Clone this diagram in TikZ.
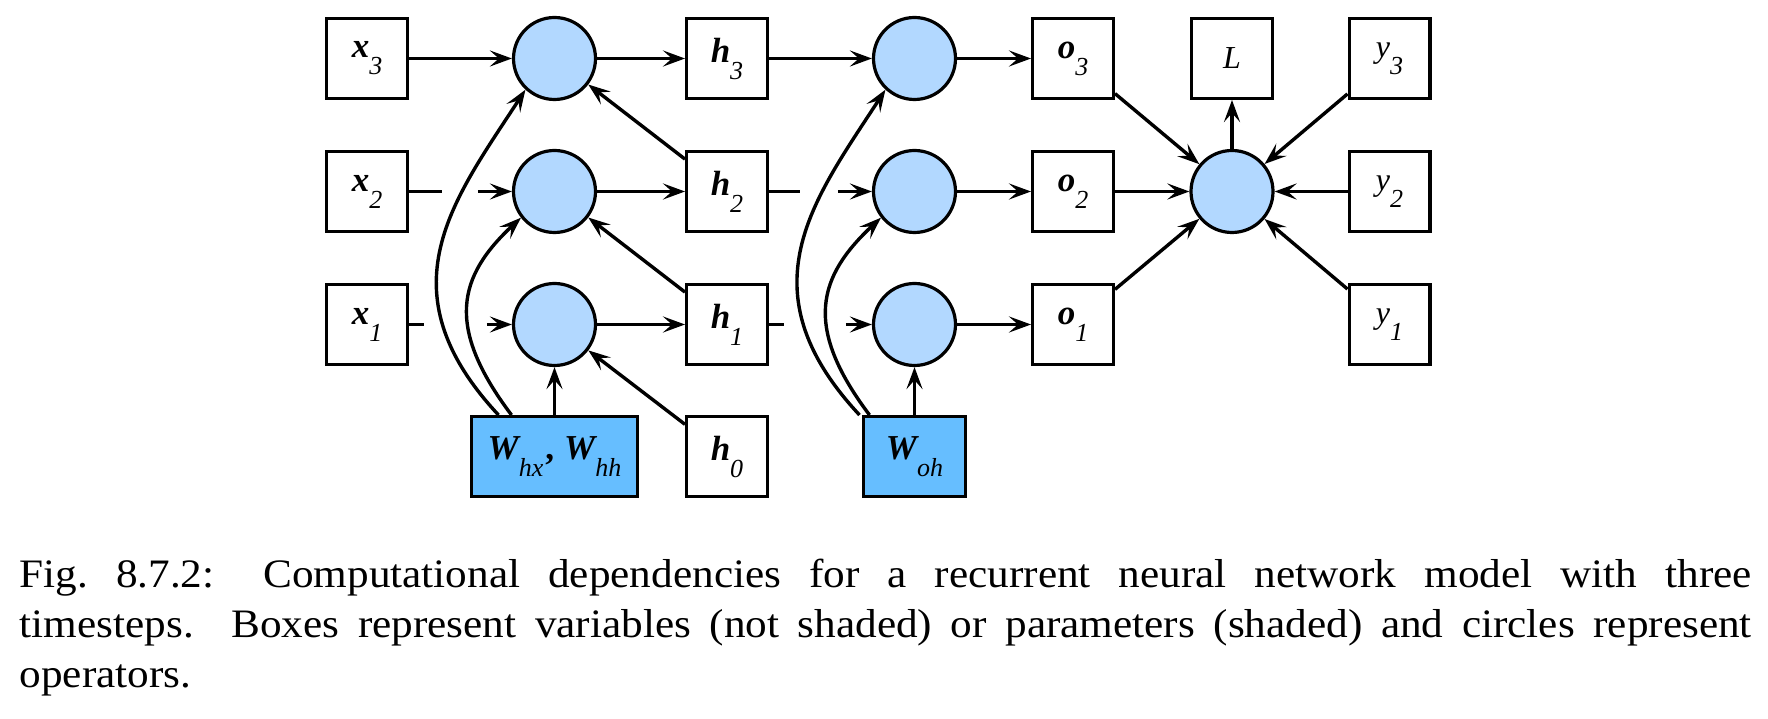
\documentclass[tikz,border=0pt]{standalone}
\usepackage{fontspec}
\setmainfont{Liberation Serif}
\newfontfamily\capfont[FakeStretch=1.07]{Liberation Serif}
\usetikzlibrary{arrows.meta}
\definecolor{opblue}{RGB}{178,216,255}
\definecolor{parblue}{RGB}{102,190,255}
\newcommand{\vb}[2]{{\fontsize{17.5}{17.5}\selectfont\bfseries\itshape #1}\raisebox{-8.5pt}{\fontsize{13}{13}\selectfont\itshape #2}}
\newcommand{\vi}[2]{{\fontsize{16}{16}\selectfont\itshape #1}\raisebox{-8.5pt}{\fontsize{13}{13}\selectfont\itshape #2}}
\newcommand{\capw}{866pt}

\begin{document}
\begin{tikzpicture}[x=0.5pt,y=0.5pt,line width=1.7pt,
  >={Stealth[length=11pt,width=8pt,inset=4.5pt]},
  var/.style={draw,line width=1.6pt,fill=white,inner sep=0pt,minimum width=40.4pt,minimum height=39.9pt},
  par/.style={var,fill=parblue},
  op/.style={draw,circle,line width=1.6pt,fill=opblue,inner sep=0pt,minimum size=41pt}]
\useasboundingbox (0,0) rectangle (1768,718);
% inputs
\node[var] (x3) at (367,659.5) {\vb{x}{3}};
\node[var] (x2) at (367,526.5) {\vb{x}{2}};
\node[var] (x1) at (367,393.5) {\vb{x}{1}};
% hidden layer
\node[op] (a3) at (554.5,659.5) {};
\node[op] (a2) at (554.5,526.5) {};
\node[op] (a1) at (554.5,393.5) {};
\node[par,minimum width=83pt] (whx) at (554.5,261.5) {\vb{W}{hx}\hspace{1pt}{\fontsize{17.5}{17.5}\selectfont\bfseries ,}\hspace{5pt}\vb{W}{hh}};
\node[var] (h3) at (727,659.5) {\vb{h}{3}};
\node[var] (h2) at (727,526.5) {\vb{h}{2}};
\node[var] (h1) at (727,393.5) {\vb{h}{1}};
\node[var] (h0) at (727,261.5) {\vb{h}{0}};
% output layer
\node[op] (b3) at (914.5,659.5) {};
\node[op] (b2) at (914.5,526.5) {};
\node[op] (b1) at (914.5,393.5) {};
\node[par,minimum width=51pt] (woh) at (914.5,261.5) {\vb{W}{oh}};
\node[var] (o3) at (1073,659.5) {\vb{o}{3}};
\node[var] (o2) at (1073,526.5) {\vb{o}{2}};
\node[var] (o1) at (1073,393.5) {\vb{o}{1}};
% loss
\node[op] (loss) at (1232,526.5) {};
\node[var] (L) at (1232,659.5) {\fontsize{16}{16}\selectfont\itshape L};
\node[var] (y3) at (1389.5,659.5) {\vi{y}{3}};
\node[var] (y2) at (1389.5,526.5) {\vi{y}{2}};
\node[var] (y1) at (1389.5,393.5) {\vi{y}{1}};

\draw[->] (x3) -- (a3);
\draw (x2.east) -- ++(33,0);
\draw[->] ([xshift=-17pt]a2.west) -- (a2);
\draw (x1.east) -- ++(15,0);
\draw[->] ([xshift=-12.5pt]a1.west) -- (a1);
\foreach \i in {1,2,3} {
  \draw[->] (a\i) -- (h\i);
  \draw[->] (b\i) -- (o\i);
  \draw[->] (o\i) -- (loss);
  \draw[->] (y\i) -- (loss);
}
\draw[->] (h0) -- (a1);
\draw[->] (h1) -- (a2);
\draw[->] (h2) -- (a3);
\draw[->] (h3) -- (b3);
\draw (h2.east) -- ++(31,0);
\draw[->] ([xshift=-17pt]b2.west) -- (b2);
\draw (h1.east) -- ++(15,0);
\draw[->] ([xshift=-13pt]b1.west) -- (b1);
\draw[->] (whx) -- (a1);
\draw[->] (woh) -- (b1);
\draw[->] (loss) -- (L);
% parameters to the upper operators
\draw[->] ([xshift=-28pt]whx.north) to[out=133,in=237,out looseness=1.35,in looseness=1.03] (a3.227);
\draw[->] ([xshift=-21.5pt]whx.north) to[out=127,in=223,out looseness=1.44,in looseness=1.11] (a2.218);
\draw[->] ([xshift=-27.5pt]woh.north) to[out=133,in=237,out looseness=1.35,in looseness=1.03] (b3.227);
\draw[->] ([xshift=-22.5pt]woh.north) to[out=127,in=223,out looseness=1.44,in looseness=1.11] (b2.218);

% caption
\node[anchor=base west,inner sep=0pt] (cap1) at (18,130) {\capfont\fontsize{20.2}{25}\selectfont\hbox to \capw{Fig.\ 8.7.2: Computational dependencies for a recurrent neural network model with three}};
\node[anchor=base west,inner sep=0pt] (cap2) at (18,80) {\capfont\fontsize{20.2}{25}\selectfont\hbox to \capw{timesteps. Boxes represent variables (not shaded) or parameters (shaded) and circles represent}};
\node[anchor=base west,inner sep=0pt] (cap3) at (18,31) {\capfont\fontsize{20.2}{25}\selectfont operators.};
\end{tikzpicture}
\end{document}
